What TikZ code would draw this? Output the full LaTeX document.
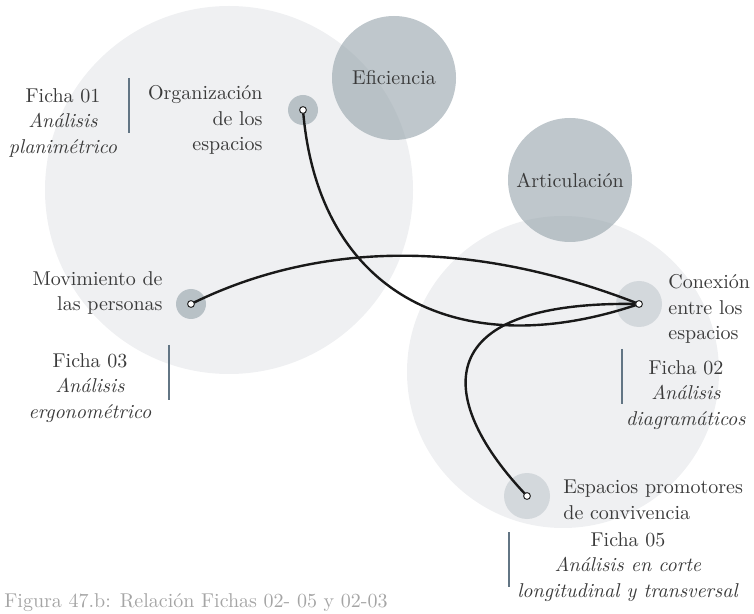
\documentclass[tikz,border=0pt]{standalone}
\usetikzlibrary{positioning}
\definecolor{ringgray}{RGB}{239,240,242}
\definecolor{discgray}{RGB}{148,162,170}
\definecolor{bargray}{RGB}{98,117,132}
\definecolor{textgray}{RGB}{58,58,58}
\definecolor{capgray}{RGB}{165,165,165}
\tikzset{
  labeltext/.style={text=textgray, font=\fontsize{10pt}{12.7pt}\selectfont, inner sep=0pt},
  ficha/.style={labeltext, align=center},
  theme/.style={circle, fill=discgray, fill opacity=0.6, text opacity=1, minimum size=62pt, inner sep=0pt, labeltext},
  darkdisc/.style={circle, fill=discgray, fill opacity=0.6, minimum size=15pt, inner sep=0pt},
  lightdisc/.style={circle, fill=discgray, fill opacity=0.3, minimum size=23pt, inner sep=0pt},
  link/.style={line width=1.2pt, black!90},
  dot/.style={draw=black!85, fill=white, line width=0.5pt},
  fichabar/.style={bargray, line width=1.4pt},
}
\begin{document}
\begin{tikzpicture}[x=0.5pt,y=-0.5pt]
\useasboundingbox (0,0) rectangle (754,614);
% Background fields
\fill[ringgray] (229,190) circle (92pt);
\fill[ringgray] (563,372) circle (78pt);
% Themes
\node[theme] (efic) at (394,78) {Eficiencia};
\node[theme] (artic) at (570,180) {Articulación};
% Discs
\node[darkdisc] (org) at (303,110) {};
\node[darkdisc] (mov) at (191,304) {};
\node[lightdisc] (con) at (639,304) {};
\node[lightdisc] (esp) at (527,496) {};
% Links
\draw[link] (org.center) .. controls (318,295) and (460,365) .. (con.center);
\draw[link] (mov.center) .. controls (300,250) and (450,230) .. (con.center);
\draw[link] (con.center) .. controls (420,300) and (440,405) .. (esp.center);
\foreach \n in {org,mov,con,esp}
  \draw[dot] (\n.center) circle (1.7pt);
% Labels
\node[labeltext, align=right, anchor=east] (orgtxt) at (263,120) {Organización\\de los\\espacios};
\node[labeltext, align=right, anchor=east] (movtxt) at (163,293) {Movimiento de\\las personas};
\node[labeltext, align=left, anchor=west] (contxt) at (668,309) {Conexión\\entre los\\espacios};
\node[labeltext, align=left, anchor=west] (esptxt) at (563,500) {Espacios promotores\\de convivencia};
% Fichas
\node[ficha] (f01) at (63,123) {Ficha 01\\\textit{Análisis}\\\textit{planimétrico}};
\draw[fichabar] (129,78) -- (129,133);
\node[ficha] (f03) at (90,388) {Ficha 03\\\textit{Análisis}\\\textit{ergonométrico}};
\draw[fichabar] (169,345) -- (169,400);
\node[ficha] (f02) at (686,395) {Ficha 02\\\textit{Análisis}\\\textit{diagramáticos}};
\draw[fichabar] (622,349) -- (622,404);
\node[ficha] (f05) at (628,567) {Ficha 05\\\textit{Análisis en corte}\\\textit{longitudinal y transversal}};
\draw[fichabar] (509,532) -- (509,587);
% Caption
\node[text=capgray, font=\fontsize{10pt}{12pt}\selectfont, inner sep=0pt, anchor=base west] (caption) at (4,607) {Figura 47.b: Relación Fichas 02- 05 y 02-03};
\end{tikzpicture}
\end{document}
